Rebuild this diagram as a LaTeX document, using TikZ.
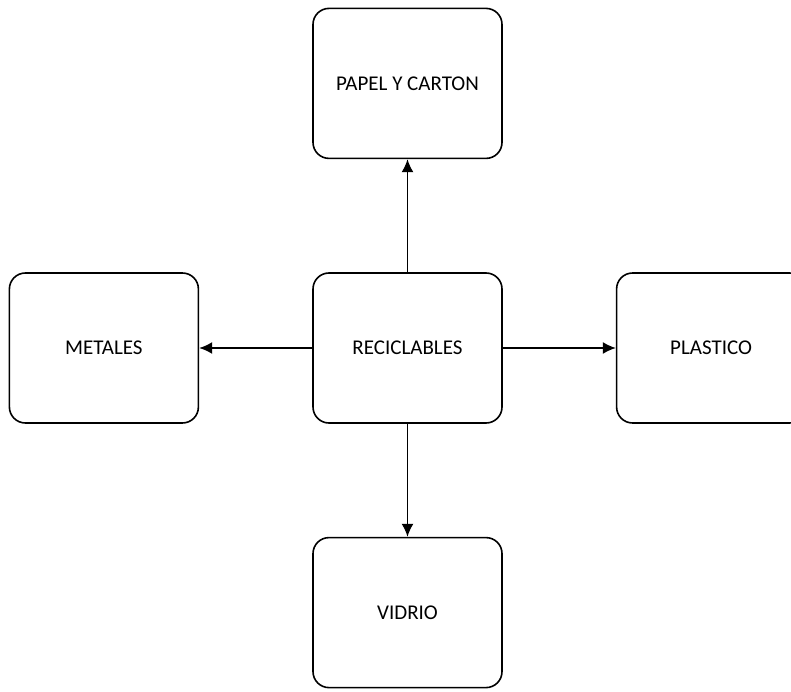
\documentclass[tikz,border=0pt]{standalone}
\usepackage{fontspec}
\setmainfont{Carlito}
\usepackage{tikz}
\usetikzlibrary{positioning,arrows.meta}

\begin{document}
\begin{tikzpicture}[
    x=1pt, y=-1pt,
    node distance=113pt,
    category/.style={rectangle, draw, rounded corners=16pt, line width=1.6pt, minimum width=189pt, minimum height=150pt, align=center, font=\fontsize{21}{25}\selectfont},
    arrow/.style={-{Latex[length=13pt,width=12pt]}, line width=1.5pt}
]

% Page frame
\path[use as bounding box] (0,0) rectangle (791,692);
\clip (0,0) rectangle (791,692);

% Centre
\node[category] (recic) at (407.5,348) {RECICLABLES};

% Materials
\node[category, above=of recic] (papel) {PAPEL Y CARTON};
\node[category, left=of recic] (metal) {METALES};
\node[category, right=of recic] (plast) {PLASTICO};
\node[category, below=of recic] (vidrio) {VIDRIO};

% Flows
\draw[arrow] (recic) -- (papel);
\draw[arrow] (recic) -- (metal);
\draw[arrow] (recic) -- (plast);
\draw[arrow] (recic) -- (vidrio);

\end{tikzpicture}
\end{document}
